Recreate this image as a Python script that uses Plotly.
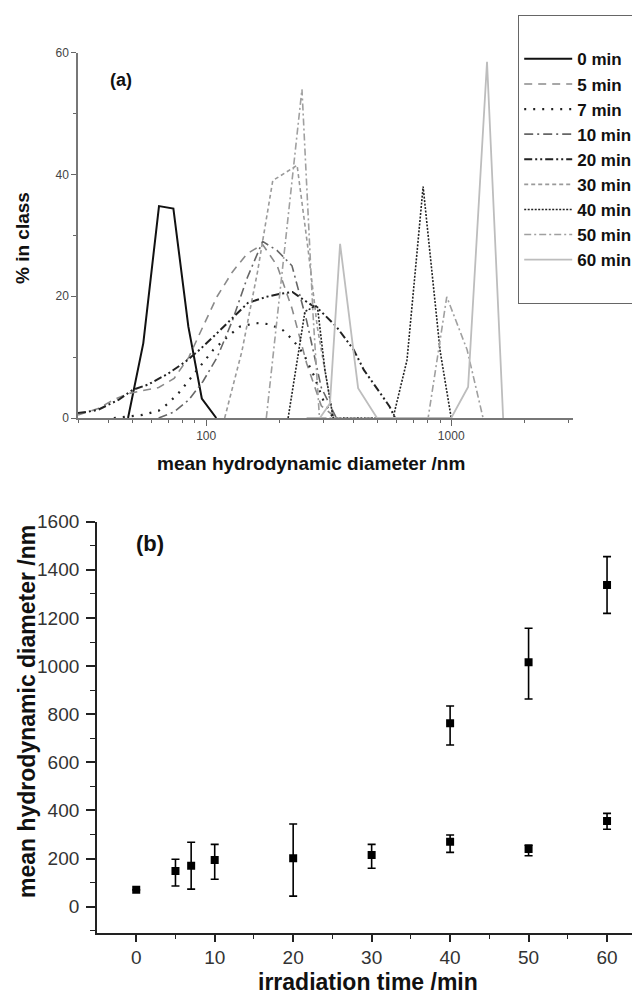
import plotly.graph_objects as go

# ---------------- panel (a): size distributions ----------------
labels_a = ["0 min", "5 min", "7 min", "10 min", "20 min", "30 min", "40 min", "50 min", "60 min"]

d0 = [48, 55.4, 64.2, 73.5, 84.6, 96, 110]
p0 = [0, 12.3, 34.8, 34.4, 15, 3.2, 0]

d5 = [30, 36, 42, 48, 55, 64, 74, 85, 97, 111, 128, 147, 170, 195, 224, 257, 295, 340]
p5 = [0.5, 1.5, 3, 4, 4.5, 5, 6.5, 10, 15, 20, 24, 27, 28.5, 25, 18, 9, 2, 0]

d7 = [42, 55, 64, 70, 78, 92, 107, 122, 137, 160, 182, 206, 226, 250, 275, 300, 330]
p7 = [0, 0.5, 1.2, 2.4, 4.3, 7.9, 11.2, 13.3, 15, 15.6, 15.4, 14.4, 12.8, 10.5, 7, 3, 0]

d10 = [64, 74, 85, 97, 111, 128, 147, 170, 195, 224, 257, 295, 340]
p10 = [0, 1, 3, 6, 10, 16, 23, 29, 27.5, 25, 16, 5, 0]

d20 = [30, 36, 44, 50, 58, 70, 82, 94, 108, 122, 148, 176, 200, 225, 250, 291, 340, 400, 440, 513, 560, 590]
p20 = [0.8, 1.3, 3, 4.6, 5.5, 7.3, 9.2, 11.2, 13.5, 15.6, 18.9, 19.9, 20.4, 20.7, 19.4, 17.7, 15, 11.2, 7.9, 4.1, 1.9, 0]

d30 = [119, 140, 162, 187, 235, 260, 284, 330]
p30 = [0, 11, 24, 39, 41.5, 28, 15, 0]

d40 = [216, 253, 284, 305, 330, 400, 500, 579, 660, 768, 901, 1000]
p40 = [0, 17.5, 18.5, 8, 0, 0, 0, 0, 9.5, 38, 11, 0]

d50 = [176, 208, 246, 273, 290, 400, 600, 805, 959, 1161, 1349]
p50 = [0, 27, 54, 17, 0, 0, 0, 0, 19.9, 11.2, 0]

d60 = [257, 291, 320, 352, 417, 498, 700, 1000, 1172, 1400, 1629]
p60 = [0, 0, 2.4, 28.6, 4.9, 0, 0, 0, 5.1, 58.5, 0]

xticks_a = [100, 1000]
xminor_a = [30, 40, 50, 60, 70, 80, 90, 200, 300, 400, 500, 600, 700, 800, 900, 2000, 3000]
yticks_a = [0, 20, 40, 60]
yminor_a = [10, 30, 50]

# ---------------- panel (b): mean diameter vs time ----------------
t_small = [0, 5, 7, 10, 20, 30, 40, 50, 60]
dia_small = [70, 148, 170, 194, 201, 215, 270, 240, 356]
err_small_plus = [0, 49, 98, 65, 143, 44, 28, 16, 32]
err_small_minus = [0, 62, 97, 80, 157, 55, 44, 28, 34]

t_large = [40, 50, 60]
dia_large = [762, 1016, 1337]
err_large_plus = [72, 141, 118]
err_large_minus = [90, 153, 118]

xticks_b = [0, 10, 20, 30, 40, 50, 60]
xminor_b = [5, 15, 25, 35, 45, 55]
yticks_b = [0, 200, 400, 600, 800, 1000, 1200, 1400, 1600]
yminor_b = [-100, 100, 300, 500, 700, 900, 1100, 1300, 1500]

FONT = "Liberation Sans, Arial, sans-serif"

# the page body has an 8px margin: size the figure so it fills the window exactly
OFF = 8
W, H = 640 - OFF, 999 - OFF


def X(px):
    return (px - OFF) / W


def Y(py):
    return 1 - (py - OFF) / H


series = [
    (d0, p0, dict(color="#111111", width=2, dash="solid")),
    (d5, p5, dict(color="#8a8a8a", width=1.6, dash="8px,6px")),
    (d7, p7, dict(color="#222222", width=2.2, dash="2px,7px")),
    (d10, p10, dict(color="#666666", width=1.6, dash="9px,4px,2px,4px")),
    (d20, p20, dict(color="#222222", width=2, dash="8px,3px,2px,3px,2px,3px")),
    (d30, p30, dict(color="#9a9a9a", width=1.6, dash="4px,3px")),
    (d40, p40, dict(color="#222222", width=1.6, dash="2px,1.5px")),
    (d50, p50, dict(color="#a0a0a0", width=1.6, dash="7px,3px,2px,3px")),
    (d60, p60, dict(color="#bdbdbd", width=1.8, dash="solid")),
]

fig = go.Figure()
# blank legend rows reproduce the empty space above and below the entries
for rank in (1, 2000):
    fig.add_trace(go.Scatter(x=[None], y=[None], mode="lines", name=" ", legendrank=rank,
                             line=dict(width=0, color="rgba(0,0,0,0)"), xaxis="x", yaxis="y",
                             hoverinfo="skip"))
for (xs, ys, ln), name in zip(series, labels_a):
    fig.add_trace(go.Scatter(x=xs, y=ys, mode="lines", name=name, line=ln,
                             xaxis="x", yaxis="y"))

fig.add_trace(go.Scatter(
    x=t_small, y=dia_small, mode="markers", showlegend=False,
    marker=dict(symbol="square", size=8, color="black"),
    error_y=dict(type="data", array=err_small_plus, arrayminus=err_small_minus,
                 color="black", thickness=1.6, width=4),
    xaxis="x2", yaxis="y2"))
fig.add_trace(go.Scatter(
    x=t_large, y=dia_large, mode="markers", showlegend=False,
    marker=dict(symbol="square", size=8, color="black"),
    error_y=dict(type="data", array=err_large_plus, arrayminus=err_large_minus,
                 color="black", thickness=1.6, width=4),
    xaxis="x2", yaxis="y2"))

axis_common = dict(showgrid=False, zeroline=False, showline=True, ticks="outside",
                   automargin=False)

fig.update_layout(
    width=W, height=H,
    margin=dict(l=0, r=0, t=0, b=0, autoexpand=False),
    paper_bgcolor="white", plot_bgcolor="white",
    font=dict(family=FONT, color="#111111"),
    xaxis=dict(**axis_common, type="log", domain=[X(78), X(573)],
               range=[1.477, 3.497], anchor="y",
               tickvals=xticks_a, ticktext=[str(v) for v in xticks_a],
               ticklen=6, tickwidth=1.2, tickcolor="#666", linecolor="#777", linewidth=1.5,
               tickfont=dict(size=12, color="#444"),
               minor=dict(tickvals=xminor_a, ticks="outside", ticklen=3,
                          tickcolor="#666", tickwidth=1)),
    yaxis=dict(**axis_common, domain=[Y(418), Y(52.7)], range=[0, 60], anchor="x",
               tickvals=yticks_a, ticklen=5, tickwidth=1.2, tickcolor="#666",
               linecolor="#777", linewidth=1.5,
               tickfont=dict(size=12, color="#444"),
               minor=dict(tickvals=yminor_a, ticks="outside", ticklen=3,
                          tickcolor="#666", tickwidth=1)),
    xaxis2=dict(**axis_common, domain=[X(97), 1.0], range=[-5, 64.2], anchor="y2",
                tickvals=xticks_b, ticklen=7, tickwidth=1.5, tickcolor="#222",
                linecolor="#222", linewidth=1.8,
                tickfont=dict(size=19, color="#333"),
                minor=dict(tickvals=xminor_b, ticks="outside", ticklen=4,
                           tickcolor="#222", tickwidth=1.2)),
    yaxis2=dict(**axis_common, domain=[Y(932.7), Y(521.7)], range=[-108, 1600], anchor="x2",
                tickvals=yticks_b, ticklen=9, tickwidth=1.5, tickcolor="#222",
                linecolor="#222", linewidth=1.8, ticklabelstandoff=3,
                tickfont=dict(size=19, color="#333"),
                minor=dict(tickvals=yminor_b, ticks="outside", ticklen=5,
                           tickcolor="#222", tickwidth=1.2)),
    legend=dict(x=X(518), xanchor="left", y=Y(15), yanchor="top",
                bordercolor="#666", borderwidth=1.2, bgcolor="white",
                font=dict(size=17, family=FONT, color="#111", weight="bold"),
                itemwidth=48, tracegroupgap=0),
    showlegend=True,
)

ann = [
    dict(text="<b>% in class</b>", x=X(22), y=Y(238), textangle=-90, size=19),
    dict(text="<b>mean hydrodynamic diameter /nm</b>", x=X(311), y=Y(463), size=19),
    dict(text="<b>(a)</b>", x=X(121), y=Y(80), size=18),
    dict(text="<b>mean hydrodynamic diameter /nm</b>", x=X(27), y=Y(712), textangle=-90, size=23),
    dict(text="<b>irradiation time /min</b>", x=X(368), y=Y(982), size=23),
    dict(text="<b>(b)</b>", x=X(150), y=Y(543), size=22),
]
for a in ann:
    fig.add_annotation(xref="paper", yref="paper", showarrow=False,
                       xanchor="center", yanchor="middle",
                       font=dict(family=FONT, color="#111", size=a["size"]),
                       text=a["text"], x=a["x"], y=a["y"], textangle=a.get("textangle", 0))

fig.write_html("out.html")
